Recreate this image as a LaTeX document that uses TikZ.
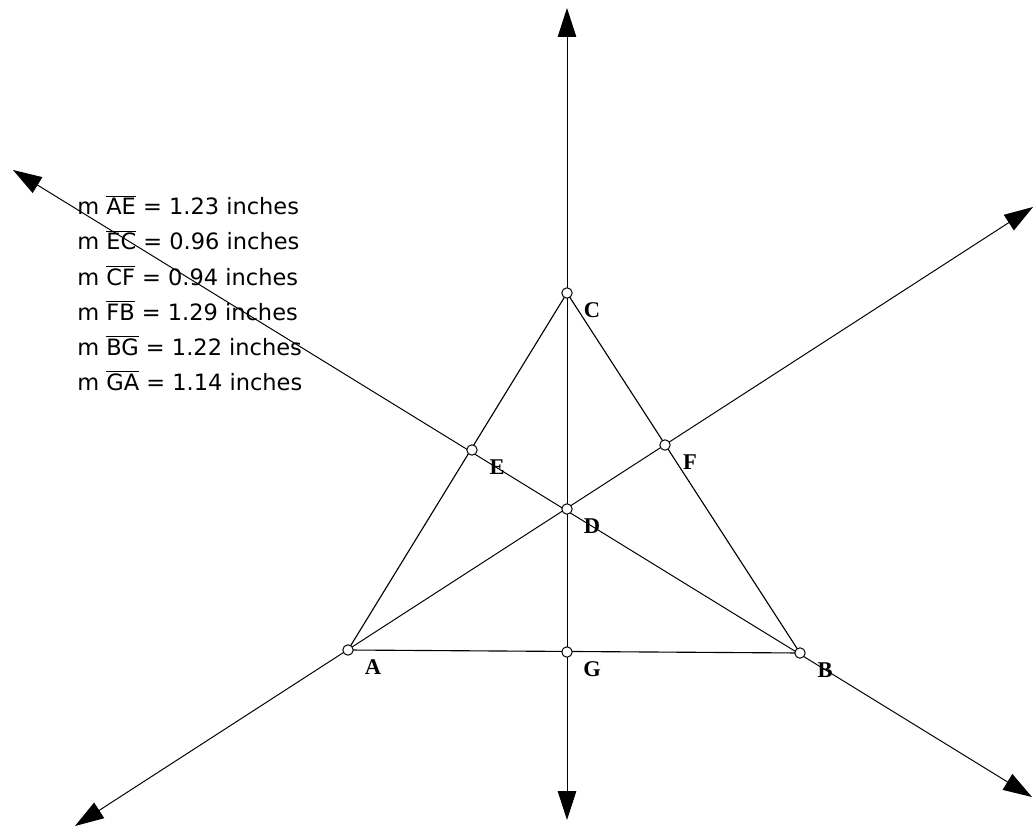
\documentclass[tikz,border=0pt]{standalone}
\usepackage{fontspec}
\setmainfont{Liberation Serif}
\newfontfamily\measfont{DejaVu Sans}
\usetikzlibrary{arrows.meta, calc}
\newcommand{\seg}[1]{$\overline{\mbox{#1}}$}

\begin{document}
\begin{tikzpicture}[x=0.025cm, y=-0.025cm,
        pt/.style={circle, draw, line width=0.7pt, fill=white, inner sep=0pt, minimum size=2.6mm},
        lbl/.style={font=\fontsize{16}{18}\selectfont\bfseries},
        meas/.style={anchor=base west, inner sep=0pt, font=\measfont\fontsize{16}{18}\selectfont},
        ray/.style={{Triangle[length=7.2mm,width=4.6mm]}-{Triangle[length=7.2mm,width=4.6mm]}, line width=0.7pt}]
        \useasboundingbox (0,0) rectangle (1033,827);
        \foreach \n/\x/\y in {A/348/650, B/800/653, C/567/293, D/567/509, E/472/450, F/665/445, G/567/652}
            \coordinate (p\n) at (\x,\y);
        % free ends of the three lines
        \coordinate (up) at (567,8);
        \coordinate (down) at (567,820);
        \coordinate (upL) at (13,170);
        \coordinate (lowR) at (1032,797);
        \coordinate (lowL) at (75,826);
        \coordinate (upR) at (1033,207);
        \draw[line width=0.8pt] (pA) -- (pB) -- (pC) -- cycle;
        \draw[ray] (down) -- (up);
        \draw[ray] (upL) -- (lowR);
        \draw[ray] (lowL) -- (upR);
        \foreach \n in {A,...,G}
        {
            \node[pt] (\n) at (p\n) {};
            \node[lbl] (l\n) at ($(p\n)+(25,17)$) {\n};
        }
        \foreach \s/\v [count=\i] in {AE/1.23, EC/0.96, CF/0.94, FB/1.29, BG/1.22, GA/1.14}
            \node[meas] (m\i) at (77, 180+35*\i) {m \seg{\s} = \v\ inches};
    \end{tikzpicture}
\end{document}
